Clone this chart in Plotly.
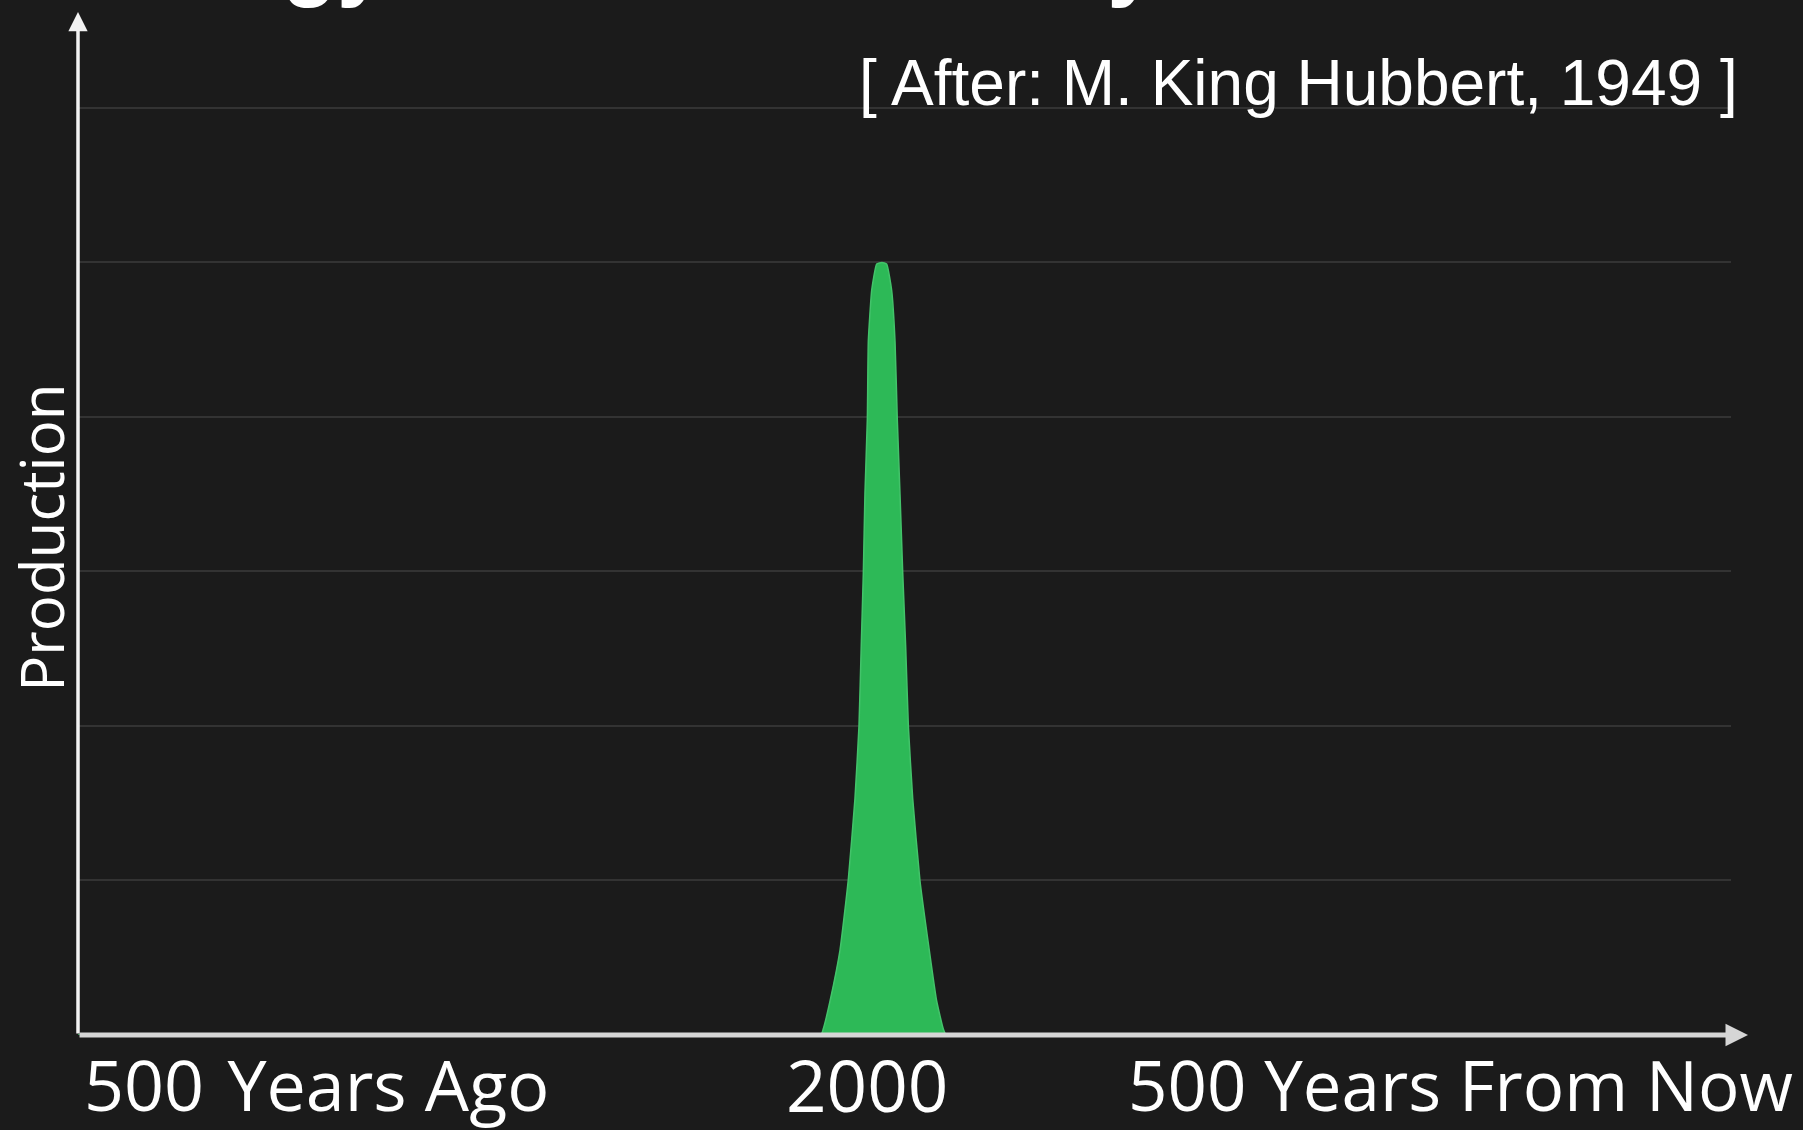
import plotly.graph_objects as go

# Hubbert-style production pulse (year, production units)
years = [1500, 1962, 1963.5, 1967.7, 1973.9, 1979.0, 1983.2, 1985.7, 1987.1,
         1988.4, 1989.4, 1990.9, 1991.5, 1993.6, 1996.7, 2000,
         2002.9, 2006.0, 2008.1, 2009.5, 2011.2, 2012.9, 2014.7, 2016.4,
         2019.1, 2023.6, 2029.4, 2034.0, 2038.1, 2040, 2528]
production = [0, 0, 0.04, 0.22, 0.55, 1.0, 1.53, 2.0, 2.52,
              2.99, 3.5, 3.99, 4.49, 4.82, 4.99, 5.0,
              4.99, 4.82, 4.49, 3.99, 3.5, 2.99, 2.52, 2.0,
              1.53, 1.0, 0.55, 0.22, 0.04, 0, 0]

x_labels = ["500\u2004Years Ago", "2000", "500 Years From Now"]
y_title = "Production"
subtitle = "[ After: M. King Hubbert, 1949 ]"
title = "Energy in Human History"

BG = "#1b1b1b"
GREEN = "#2db957"
LABEL_FONT = "Open Sans, Noto Sans, sans-serif"
ARIAL = "Liberation Sans, Arial, sans-serif"

fig = go.Figure()
fig.add_trace(
    go.Scatter(
        x=years,
        y=production,
        mode="lines",
        fill="tozeroy",
        fillcolor=GREEN,
        line=dict(color="#43c36a", width=1.5, shape="spline", smoothing=0.4),
        hoverinfo="skip",
        showlegend=False,
    )
)

fig.update_xaxes(
    range=[1500, 2528], showgrid=False, zeroline=False,
    showline=False, showticklabels=False, ticks="",
)
fig.update_yaxes(
    range=[0, 6.621], dtick=1, showgrid=True, gridcolor="#333333", gridwidth=2,
    zeroline=False, showline=False, showticklabels=False, ticks="",
)

annotations = [
    # axis arrows
    dict(xref="paper", yref="paper", x=0, y=1, ax=0, ay=1023, text="",
         showarrow=True, arrowhead=2, arrowsize=1.1, arrowwidth=3.5,
         arrowcolor="#f2f2f2", standoff=0),
    dict(xref="paper", yref="paper", x=1.0103, y=0, ax=-1670, ay=0, text="",
         showarrow=True, arrowhead=2, arrowsize=0.9, arrowwidth=5,
         arrowcolor="#d6d6d6", standoff=0),
    # cropped slide title (only the descenders show)
    dict(xref="paper", yref="paper", x=0.001, y=1.053, xanchor="left",
         yanchor="middle", text=f"<b>{title}</b>", showarrow=False,
         font=dict(family=ARIAL, size=90, color="white")),
    dict(xref="paper", yref="paper", x=1.0052, y=0.931, xanchor="right",
         yanchor="middle", text=subtitle, showarrow=False,
         font=dict(family=ARIAL, size=64, color="white")),
    dict(xref="paper", yref="paper", x=-0.0224, y=0.486, xanchor="center",
         yanchor="middle", text=y_title, textangle=-90, showarrow=False,
         font=dict(family=LABEL_FONT, size=60, color="white")),
    dict(xref="paper", yref="paper", x=0.003, y=-0.048, xanchor="left",
         yanchor="middle", text=x_labels[0], showarrow=False, borderpad=0,
         font=dict(family=LABEL_FONT, size=70, color="white")),
    dict(xref="paper", yref="paper", x=0.4773, y=-0.048, xanchor="center",
         yanchor="middle", text=x_labels[1], showarrow=False, borderpad=0,
         font=dict(family=LABEL_FONT, size=71, color="white")),
    dict(xref="paper", yref="paper", x=1.0381, y=-0.048, xanchor="right",
         yanchor="middle", text=x_labels[2], showarrow=False, borderpad=0,
         font=dict(family=LABEL_FONT, size=69, color="white")),
]

fig.update_layout(
    width=1803,
    height=1130,
    paper_bgcolor=BG,
    plot_bgcolor=BG,
    margin=dict(l=78, r=72, t=12, b=95),
    annotations=annotations,
    showlegend=False,
)

fig.write_html(
    "out.html",
    config={"displayModeBar": False},
    post_script="document.body.style.margin='0';"
                "document.body.style.background='#1b1b1b';",
)
